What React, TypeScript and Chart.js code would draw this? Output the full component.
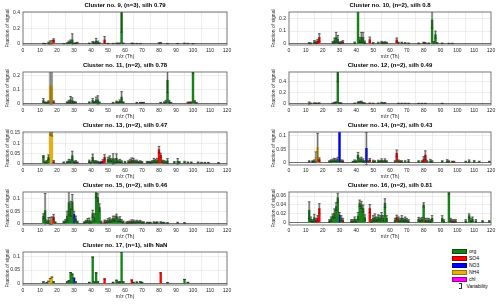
import React, { useEffect, useRef } from 'react';
import { Chart, registerables } from 'chart.js';
Chart.register(...registerables);

type Peak = [number, string, number, number]; // m/z, species, mean fraction, variability

const xTicks = [0, 10, 20, 30, 40, 50, 60, 70, 80, 90, 100, 110, 120];

const cluster9: Peak[] = [
  [12, 'org', 0.004, 0.003], [13, 'org', 0.003, 0.002], [15, 'org', 0.01, 0.012], [16, 'nh4', 0.018, 0.02],
  [17, 'nh4', 0.02, 0.02], [18, 'so4', 0.05, 0.015], [24, 'org', 0.003, 0.002], [26, 'org', 0.008, 0.006],
  [27, 'org', 0.02, 0.015], [28, 'org', 0.03, 0.02], [29, 'org', 0.05, 0.08], [30, 'no3', 0.005, 0.004],
  [31, 'org', 0.008, 0.006], [32, 'so4', 0.012, 0.008], [39, 'org', 0.006, 0.004], [41, 'org', 0.018, 0.012],
  [42, 'org', 0.012, 0.01], [43, 'org', 0.035, 0.035], [44, 'org', 0.02, 0.015], [45, 'org', 0.008, 0.005],
  [48, 'so4', 0.05, 0.045], [50, 'org', 0.004, 0.003], [53, 'org', 0.004, 0.003], [55, 'org', 0.006, 0.004],
  [56, 'org', 0.005, 0.004], [57, 'org', 0.006, 0.004], [58, 'org', 0.45, 0.3], [59, 'org', 0.006, 0.005],
  [64, 'so4', 0.006, 0.004], [65, 'org', 0.004, 0.003], [67, 'org', 0.004, 0.003], [69, 'org', 0.003, 0.002],
  [80, 'so4', 0.008, 0.006], [81, 'so4', 0.01, 0.008], [85, 'org', 0.003, 0.002], [91, 'org', 0.003, 0.002],
  [95, 'org', 0.006, 0.004], [97, 'org', 0.004, 0.003], [100, 'org', 0.002, 0.002],
];

const cluster10: Peak[] = [
  [12, 'org', 0.006, 0.004], [13, 'org', 0.004, 0.003], [15, 'org', 0.015, 0.01], [16, 'so4', 0.012, 0.01],
  [17, 'so4', 0.02, 0.015], [18, 'so4', 0.05, 0.03], [26, 'org', 0.01, 0.008], [27, 'org', 0.025, 0.02],
  [28, 'org', 0.05, 0.04], [29, 'org', 0.035, 0.03], [30, 'no3', 0.008, 0.006], [31, 'org', 0.01, 0.008],
  [32, 'so4', 0.015, 0.01], [39, 'org', 0.008, 0.006], [41, 'org', 0.26, 0.01], [42, 'org', 0.03, 0.02],
  [43, 'org', 0.05, 0.04], [44, 'org', 0.05, 0.04], [45, 'org', 0.012, 0.01], [48, 'so4', 0.033, 0.02],
  [50, 'org', 0.006, 0.004], [53, 'org', 0.008, 0.005], [55, 'org', 0.012, 0.008], [56, 'org', 0.008, 0.006],
  [57, 'org', 0.01, 0.006], [58, 'org', 0.008, 0.005], [64, 'so4', 0.03, 0.016], [65, 'org', 0.008, 0.005],
  [67, 'org', 0.008, 0.005], [69, 'org', 0.006, 0.004], [71, 'org', 0.004, 0.003], [77, 'org', 0.004, 0.003],
  [80, 'so4', 0.008, 0.005], [81, 'org', 0.006, 0.004], [83, 'org', 0.004, 0.003], [85, 'org', 0.187, 0.063],
  [86, 'org', 0.01, 0.008], [87, 'org', 0.072, 0.028], [88, 'org', 0.006, 0.004], [91, 'org', 0.004, 0.003],
  [95, 'org', 0.003, 0.002], [97, 'org', 0.003, 0.002],
];

const cluster11: Peak[] = [
  [12, 'org', 0.02, 0.015], [13, 'org', 0.005, 0.004], [14, 'org', 0.005, 0.004], [15, 'org', 0.01, 0.008],
  [16, 'nh4', 0.13, 0.15], [17, 'nh4', 0.12, 0.14], [18, 'so4', 0.01, 0.008], [26, 'org', 0.006, 0.005],
  [27, 'org', 0.012, 0.01], [28, 'org', 0.025, 0.025], [29, 'org', 0.02, 0.02], [30, 'no3', 0.008, 0.006],
  [31, 'org', 0.006, 0.004], [39, 'org', 0.006, 0.004], [41, 'org', 0.02, 0.015], [42, 'org', 0.008, 0.006],
  [43, 'org', 0.025, 0.02], [44, 'org', 0.025, 0.03], [45, 'org', 0.006, 0.004], [53, 'org', 0.004, 0.003],
  [55, 'org', 0.01, 0.006], [56, 'org', 0.006, 0.004], [57, 'org', 0.015, 0.01], [58, 'org', 0.045, 0.04],
  [59, 'org', 0.006, 0.004], [67, 'org', 0.004, 0.003], [69, 'org', 0.004, 0.003], [70, 'org', 0.004, 0.003],
  [71, 'org', 0.004, 0.003], [81, 'org', 0.004, 0.003], [83, 'org', 0.006, 0.004], [84, 'org', 0.012, 0.01],
  [85, 'org', 0.167, 0.09], [86, 'org', 0.012, 0.01], [87, 'org', 0.004, 0.003], [97, 'so4', 0.005, 0.004],
  [98, 'so4', 0.006, 0.004], [99, 'org', 0.006, 0.004], [100, 'org', 0.228, 0.01], [101, 'org', 0.012, 0.008],
  [102, 'org', 0.004, 0.003],
];

const cluster12: Peak[] = [
  [12, 'org', 0.01, 0.02], [13, 'org', 0.004, 0.003], [15, 'org', 0.008, 0.006], [16, 'org', 0.006, 0.004],
  [17, 'nh4', 0.006, 0.004], [18, 'so4', 0.008, 0.005], [26, 'org', 0.006, 0.004], [27, 'org', 0.015, 0.01],
  [28, 'org', 0.02, 0.012], [29, 'org', 0.6, 0.2], [30, 'no3', 0.01, 0.008], [31, 'org', 0.008, 0.005],
  [39, 'org', 0.006, 0.004], [41, 'org', 0.02, 0.012], [42, 'org', 0.025, 0.015], [43, 'org', 0.03, 0.015],
  [44, 'org', 0.012, 0.008], [45, 'org', 0.006, 0.004], [48, 'so4', 0.006, 0.004], [50, 'org', 0.004, 0.003],
  [53, 'org', 0.006, 0.004], [55, 'org', 0.015, 0.01], [56, 'org', 0.008, 0.005], [57, 'org', 0.012, 0.008],
  [65, 'org', 0.004, 0.003], [67, 'org', 0.004, 0.003], [69, 'org', 0.004, 0.003], [71, 'org', 0.003, 0.002],
  [77, 'org', 0.003, 0.002], [79, 'org', 0.003, 0.002], [81, 'org', 0.003, 0.002], [91, 'org', 0.003, 0.002],
];

const cluster13: Peak[] = [
  [12, 'org', 0.035, 0.004], [13, 'org', 0.006, 0.004], [14, 'org', 0.008, 0.006], [15, 'org', 0.03, 0.012],
  [16, 'nh4', 0.16, 0.02], [17, 'nh4', 0.155, 0.02], [18, 'so4', 0.008, 0.006], [24, 'org', 0.004, 0.003],
  [26, 'org', 0.006, 0.004], [27, 'org', 0.012, 0.008], [28, 'org', 0.01, 0.008], [29, 'org', 0.038, 0.022],
  [30, 'no3', 0.006, 0.004], [31, 'org', 0.008, 0.006], [32, 'so4', 0.004, 0.003], [39, 'org', 0.01, 0.006],
  [40, 'org', 0.004, 0.003], [41, 'org', 0.03, 0.016], [42, 'org', 0.008, 0.005], [43, 'org', 0.008, 0.005],
  [44, 'org', 0.006, 0.004], [45, 'no3', 0.004, 0.003], [46, 'no3', 0.006, 0.004], [47, 'so4', 0.01, 0.008],
  [48, 'so4', 0.03, 0.013], [50, 'org', 0.02, 0.01], [51, 'org', 0.025, 0.012], [52, 'org', 0.015, 0.008],
  [53, 'org', 0.022, 0.026], [54, 'org', 0.012, 0.01], [55, 'org', 0.025, 0.022], [56, 'org', 0.01, 0.006],
  [57, 'org', 0.012, 0.008], [58, 'org', 0.008, 0.005], [60, 'org', 0.006, 0.004], [62, 'org', 0.008, 0.005],
  [63, 'org', 0.012, 0.008], [64, 'so4', 0.015, 0.012], [65, 'org', 0.015, 0.01], [66, 'org', 0.01, 0.006],
  [67, 'org', 0.01, 0.006], [68, 'org', 0.006, 0.004], [69, 'org', 0.008, 0.005], [70, 'org', 0.005, 0.004],
  [73, 'org', 0.006, 0.004], [74, 'org', 0.006, 0.004], [75, 'org', 0.005, 0.004], [76, 'org', 0.008, 0.005],
  [77, 'org', 0.015, 0.01], [78, 'org', 0.012, 0.008], [79, 'org', 0.015, 0.01], [80, 'so4', 0.068, 0.016],
  [81, 'so4', 0.04, 0.01], [82, 'org', 0.01, 0.006], [83, 'org', 0.008, 0.006], [84, 'org', 0.006, 0.004],
  [85, 'org', 0.012, 0.012], [89, 'org', 0.005, 0.004], [91, 'org', 0.01, 0.014], [92, 'org', 0.005, 0.004],
  [95, 'org', 0.006, 0.004], [97, 'org', 0.004, 0.003], [99, 'org', 0.004, 0.003], [103, 'org', 0.004, 0.003],
  [105, 'org', 0.003, 0.002], [107, 'org', 0.003, 0.002], [109, 'org', 0.003, 0.002], [115, 'org', 0.002, 0.002],
];

const cluster14: Peak[] = [
  [12, 'org', 0.004, 0.003], [14, 'no3', 0.004, 0.003], [15, 'org', 0.006, 0.004], [16, 'nh4', 0.02, 0.02],
  [17, 'nh4', 0.057, 0.052], [18, 'so4', 0.012, 0.006], [24, 'org', 0.004, 0.003], [25, 'org', 0.006, 0.004],
  [26, 'org', 0.008, 0.005], [27, 'org', 0.01, 0.006], [28, 'org', 0.008, 0.006], [29, 'org', 0.012, 0.008],
  [30, 'no3', 0.12, 0.004], [31, 'org', 0.006, 0.004], [32, 'so4', 0.005, 0.004], [38, 'org', 0.003, 0.002],
  [39, 'org', 0.006, 0.004], [40, 'org', 0.004, 0.003], [41, 'org', 0.028, 0.01], [42, 'org', 0.01, 0.006],
  [43, 'org', 0.012, 0.008], [44, 'org', 0.008, 0.006], [45, 'org', 0.004, 0.003], [46, 'no3', 0.053, 0.06],
  [47, 'org', 0.004, 0.003], [48, 'so4', 0.01, 0.005], [50, 'org', 0.005, 0.004], [51, 'org', 0.004, 0.003],
  [53, 'org', 0.005, 0.004], [54, 'org', 0.004, 0.003], [55, 'org', 0.008, 0.006], [56, 'org', 0.004, 0.003],
  [57, 'org', 0.008, 0.006], [58, 'org', 0.004, 0.003], [63, 'org', 0.004, 0.003], [64, 'so4', 0.035, 0.012],
  [65, 'org', 0.006, 0.004], [66, 'org', 0.004, 0.003], [67, 'org', 0.004, 0.003], [69, 'org', 0.004, 0.003],
  [71, 'org', 0.006, 0.005], [77, 'org', 0.004, 0.003], [79, 'org', 0.004, 0.003], [80, 'so4', 0.012, 0.01],
  [81, 'so4', 0.028, 0.016], [82, 'org', 0.004, 0.003], [84, 'org', 0.006, 0.006], [85, 'org', 0.004, 0.003],
  [91, 'org', 0.004, 0.003], [94, 'org', 0.006, 0.005], [95, 'org', 0.004, 0.003], [97, 'so4', 0.003, 0.002],
  [98, 'so4', 0.003, 0.002], [105, 'org', 0.003, 0.002], [107, 'org', 0.005, 0.005], [110, 'org', 0.004, 0.004],
  [113, 'org', 0.003, 0.002], [119, 'org', 0.003, 0.002],
];

const cluster15: Peak[] = [
  [12, 'org', 0.03, 0.01], [13, 'org', 0.052, 0.07], [14, 'org', 0.008, 0.006], [15, 'org', 0.012, 0.012],
  [16, 'nh4', 0.01, 0.015], [17, 'nh4', 0.012, 0.015], [18, 'so4', 0.026, 0.011], [19, 'org', 0.004, 0.003],
  [24, 'org', 0.006, 0.004], [25, 'org', 0.01, 0.006], [26, 'org', 0.03, 0.02], [27, 'org', 0.085, 0.05],
  [28, 'org', 0.06, 0.03], [29, 'org', 0.088, 0.03], [30, 'no3', 0.037, 0.013], [31, 'org', 0.02, 0.01],
  [32, 'org', 0.006, 0.004], [36, 'org', 0.004, 0.003], [37, 'org', 0.008, 0.005], [38, 'org', 0.012, 0.008],
  [39, 'org', 0.012, 0.01], [40, 'org', 0.006, 0.004], [41, 'org', 0.04, 0.014], [42, 'org', 0.025, 0.015],
  [43, 'org', 0.125, 0.02], [44, 'org', 0.106, 0.015], [45, 'org', 0.065, 0.015], [46, 'org', 0.006, 0.004],
  [48, 'so4', 0.008, 0.006], [49, 'org', 0.008, 0.005], [50, 'org', 0.012, 0.008], [51, 'org', 0.015, 0.008],
  [52, 'org', 0.012, 0.006], [53, 'org', 0.02, 0.01], [54, 'org', 0.02, 0.01], [55, 'org', 0.03, 0.008],
  [56, 'org', 0.015, 0.008], [57, 'org', 0.018, 0.01], [58, 'org', 0.01, 0.006], [59, 'org', 0.006, 0.004],
  [61, 'org', 0.004, 0.003], [62, 'org', 0.005, 0.004], [63, 'org', 0.006, 0.004], [64, 'so4', 0.008, 0.007],
  [65, 'org', 0.008, 0.006], [66, 'org', 0.006, 0.004], [67, 'org', 0.008, 0.005], [68, 'org', 0.006, 0.004],
  [69, 'org', 0.008, 0.005], [70, 'org', 0.004, 0.003], [71, 'org', 0.004, 0.003], [73, 'org', 0.003, 0.002],
  [74, 'org', 0.003, 0.002], [75, 'org', 0.003, 0.002], [77, 'org', 0.004, 0.003], [78, 'org', 0.003, 0.002],
  [79, 'org', 0.004, 0.003], [81, 'org', 0.004, 0.003], [82, 'org', 0.003, 0.002], [83, 'org', 0.003, 0.002],
  [85, 'org', 0.002, 0.002], [91, 'org', 0.003, 0.002], [95, 'org', 0.002, 0.002],
];

const cluster16: Peak[] = [
  [12, 'org', 0.028, 0.019], [13, 'org', 0.008, 0.005], [14, 'org', 0.004, 0.003], [15, 'org', 0.011, 0.008],
  [16, 'so4', 0.006, 0.004], [17, 'so4', 0.01, 0.006], [18, 'so4', 0.032, 0.011], [24, 'org', 0.004, 0.003],
  [25, 'org', 0.008, 0.005], [26, 'org', 0.015, 0.005], [27, 'org', 0.021, 0.01], [28, 'org', 0.036, 0.009],
  [29, 'org', 0.056, 0.01], [30, 'no3', 0.017, 0.006], [31, 'org', 0.01, 0.006], [32, 'so4', 0.006, 0.004],
  [37, 'org', 0.004, 0.003], [38, 'org', 0.004, 0.003], [39, 'org', 0.008, 0.005], [40, 'org', 0.004, 0.003],
  [41, 'org', 0.015, 0.008], [42, 'org', 0.044, 0.007], [43, 'org', 0.04, 0.008], [44, 'org', 0.032, 0.008],
  [45, 'org', 0.012, 0.006], [48, 'so4', 0.032, 0.009], [49, 'org', 0.004, 0.003], [50, 'org', 0.01, 0.006],
  [51, 'org', 0.012, 0.008], [52, 'org', 0.008, 0.005], [53, 'org', 0.012, 0.006], [54, 'org', 0.01, 0.006],
  [55, 'org', 0.016, 0.007], [56, 'org', 0.01, 0.006], [57, 'org', 0.044, 0.01], [58, 'org', 0.01, 0.006],
  [63, 'org', 0.006, 0.004], [64, 'so4', 0.012, 0.005], [65, 'org', 0.008, 0.005], [66, 'org', 0.006, 0.004],
  [67, 'org', 0.01, 0.006], [68, 'org', 0.006, 0.004], [69, 'org', 0.008, 0.005], [70, 'org', 0.006, 0.004],
  [71, 'org', 0.004, 0.003], [77, 'org', 0.008, 0.004], [78, 'org', 0.006, 0.004], [79, 'org', 0.008, 0.004],
  [80, 'org', 0.04, 0.005], [81, 'so4', 0.006, 0.004], [82, 'org', 0.006, 0.004], [83, 'org', 0.006, 0.004],
  [84, 'org', 0.004, 0.003], [85, 'org', 0.01, 0.006], [91, 'org', 0.01, 0.006], [92, 'org', 0.004, 0.003],
  [95, 'org', 0.066, 0.002], [96, 'org', 0.006, 0.004], [97, 'so4', 0.004, 0.003], [98, 'so4', 0.004, 0.003],
  [99, 'org', 0.004, 0.003], [105, 'org', 0.004, 0.003], [107, 'org', 0.016, 0.004], [108, 'org', 0.006, 0.004],
  [109, 'org', 0.008, 0.005], [111, 'org', 0.004, 0.003], [115, 'org', 0.003, 0.002], [119, 'org', 0.003, 0.002],
];

const cluster17: Peak[] = [
  [12, 'org', 0.006, 0], [14, 'org', 0.003, 0], [15, 'nh4', 0.008, 0], [16, 'nh4', 0.018, 0],
  [17, 'nh4', 0.024, 0], [18, 'org', 0.006, 0], [26, 'org', 0.006, 0], [27, 'org', 0.01, 0],
  [28, 'org', 0.041, 0], [29, 'org', 0.035, 0], [30, 'no3', 0.02, 0], [31, 'org', 0.006, 0],
  [39, 'org', 0.004, 0], [41, 'org', 0.099, 0], [42, 'org', 0.006, 0], [43, 'org', 0.04, 0],
  [44, 'org', 0.006, 0], [48, 'so4', 0.017, 0], [53, 'org', 0.004, 0], [55, 'org', 0.012, 0],
  [56, 'org', 0.005, 0], [57, 'org', 0.006, 0], [58, 'org', 0.118, 0], [59, 'org', 0.006, 0],
  [64, 'so4', 0.013, 0], [65, 'org', 0.004, 0], [67, 'org', 0.005, 0], [69, 'org', 0.006, 0],
  [70, 'org', 0.004, 0], [81, 'so4', 0.04, 0], [85, 'org', 0.003, 0], [95, 'org', 0.015, 0],
  [97, 'org', 0.004, 0],
];

const clusterTitles = [
  'Cluster no. 9, (n=3), silh 0.79', 'Cluster no. 10, (n=2), silh 0.8',
  'Cluster no. 11, (n=2), silh 0.78', 'Cluster no. 12, (n=2), silh 0.49',
  'Cluster no. 13, (n=2), silh 0.47', 'Cluster no. 14, (n=2), silh 0.43',
  'Cluster no. 15, (n=2), silh 0.46', 'Cluster no. 16, (n=2), silh 0.81',
  'Cluster no. 17, (n=1), silh NaN',
];
const clusterPeaks = [cluster9, cluster10, cluster11, cluster12, cluster13, cluster14, cluster15, cluster16, cluster17];
const yMins = [-0.015, -0.009, -0.012, -0.025, -0.008, -0.009, -0.006, -0.005, -0.006];
const yMaxs = [0.41, 0.249, 0.227, 0.578, 0.155, 0.114, 0.128, 0.069, 0.118];
const yTickLists = [
  [0, 0.2, 0.4], [0, 0.1, 0.2], [0, 0.1, 0.2], [0, 0.2, 0.4], [0, 0.05, 0.1, 0.15],
  [0, 0.05, 0.1], [0, 0.05, 0.1], [0, 0.02, 0.04, 0.06], [0, 0.05, 0.1],
];

const speciesKeys = ['org', 'so4', 'no3', 'nh4', 'chl'];
const speciesLabels = ['org', 'SO4', 'NO3', 'NH4', 'chl'];
const speciesColors: Record<string, string> = {
  org: '#178217', so4: '#ff0000', no3: '#0000ff', nh4: '#e6b012', chl: '#ff00ff',
};
const speciesEdges: Record<string, string> = {
  org: '#0b4f0b', so4: '#a00000', no3: '#00009a', nh4: '#9a7408', chl: '#a000a0',
};

const FONT = '"Liberation Sans", Arial, Helvetica, sans-serif';

type PanelProps = {
  idx: number; left: number; top: number; width: number; height: number; padRight: number;
};

function Panel({ idx, left, top, width, height, padRight }: PanelProps) {
  const ref = useRef<HTMLCanvasElement>(null);
  useEffect(() => {
    const peaks = clusterPeaks[idx];
    const yTicks = yTickLists[idx];
    const datasets: any[] = [];
    datasets.push({
      label: 'var',
      data: peaks.filter((p) => p[3] > 0).map((p) => ({ x: p[0], y: p[2] + p[3] })),
      backgroundColor: '#c4c4c4',
      barThickness: 1.7,
      grouped: false,
      order: 2,
    });
    speciesKeys.forEach((k) => {
      datasets.push({
        label: k,
        data: peaks.filter((p) => p[1] === k).map((p) => ({ x: p[0], y: p[2] })),
        backgroundColor: speciesColors[k],
        barThickness: 1.7,
        grouped: false,
        order: 1,
      });
    });

    const box = {
      id: 'box',
      afterDraw(chart: any) {
        const { ctx, chartArea: a } = chart;
        ctx.save();
        ctx.strokeStyle = '#555';
        ctx.lineWidth = 0.8;
        ctx.strokeRect(a.left, a.top, a.right - a.left, a.bottom - a.top);
        ctx.restore();
      },
    };
    const whiskers = {
      id: 'whiskers',
      afterDatasetsDraw(chart: any) {
        const { ctx, chartArea: a, scales } = chart;
        const xs = scales.x;
        const ys = scales.y;
        ctx.save();
        ctx.beginPath();
        ctx.rect(a.left, a.top, a.right - a.left, a.bottom - a.top);
        ctx.clip();
        ctx.strokeStyle = '#2a2a2a';
        ctx.lineWidth = 0.6;
        ctx.beginPath();
        for (const p of peaks) {
          const px = xs.getPixelForValue(p[0]);
          const yt = ys.getPixelForValue(p[2] + p[3]);
          const yb = ys.getPixelForValue(p[2] - p[3]);
          ctx.moveTo(px, yb);
          ctx.lineTo(px, yt);
          ctx.moveTo(px - 1.3, yt);
          ctx.lineTo(px + 1.3, yt);
          ctx.moveTo(px - 1.3, yb);
          ctx.lineTo(px + 1.3, yb);
        }
        ctx.stroke();
        ctx.restore();
      },
    };

    const tickFont = { family: FONT, size: 5 };
    const chart = new Chart(ref.current as HTMLCanvasElement, {
      type: 'bar',
      data: { datasets },
      options: {
        responsive: false,
        animation: false,
        events: [],
        layout: { padding: { left: 0, right: padRight, top: 0, bottom: 0 } },
        plugins: {
          legend: { display: false },
          tooltip: { enabled: false },
          title: {
            display: true,
            text: clusterTitles[idx],
            fullSize: false,
            color: '#000',
            font: { family: FONT, size: 6, weight: 'bold', lineHeight: 1.2 },
            padding: { top: 2, bottom: 2.8 },
          },
        },
        scales: {
          x: {
            type: 'linear',
            min: 0,
            max: 120,
            offset: false,
            grid: { color: '#e2e2e2', lineWidth: 0.6, drawTicks: false },
            border: { display: false },
            ticks: { padding: 3, font: tickFont, color: '#262626', maxRotation: 0, autoSkip: false,
              callback: (v: any) => String(v) },
            afterBuildTicks: (axis: any) => { axis.ticks = xTicks.map((v) => ({ value: v })); },
            title: { display: true, text: 'm/z (Th)', color: '#262626', font: { family: FONT, size: 5, lineHeight: 1.2 },
              padding: { top: 0, bottom: 0 } },
            afterFit: (s: any) => { s.height = 15; },
          },
          y: {
            type: 'linear',
            min: yMins[idx],
            max: yMaxs[idx],
            grid: {
              color: (c: any) => (c.tick && c.tick.value === 0 ? '#4a4a4a' : '#e2e2e2'),
              lineWidth: (c: any) => (c.tick && c.tick.value === 0 ? 0.8 : 0.6),
              drawTicks: false,
            },
            border: { display: false },
            ticks: { padding: 3, font: tickFont, color: '#262626', callback: (v: any) => String(v) },
            afterBuildTicks: (axis: any) => { axis.ticks = yTicks.map((v) => ({ value: v })); },
            title: { display: true, text: 'Fraction of signal', color: '#262626', font: { family: FONT, size: 5, lineHeight: 1.2 },
              padding: { top: 5, bottom: 0 } },
            afterFit: (s: any) => { s.width = 23; },
          },
        },
      } as any,
      plugins: [whiskers, box],
    });
    return () => chart.destroy();
  }, [idx, padRight]);
  return (
    <canvas
      ref={ref}
      width={width}
      height={height}
      style={{ position: 'absolute', left, top, width, height }}
    />
  );
}

const panelLayout = [
  { col: 0, row: 0 }, { col: 1, row: 0 }, { col: 0, row: 1 }, { col: 1, row: 1 },
  { col: 0, row: 2 }, { col: 1, row: 2 }, { col: 0, row: 3 }, { col: 1, row: 3 }, { col: 0, row: 4 },
];

export default function App() {
  const legendTop = [248.5, 255.5, 262.5, 269.5, 276.5];
  return (
    <div style={{ position: 'absolute', left: 0, top: 0, width: 500, height: 304, background: '#fff', overflow: 'hidden', fontFamily: FONT }}>
      {panelLayout.map((p, i) => (
        <Panel
          key={i}
          idx={i}
          left={p.col === 0 ? 0 : 266}
          top={p.row * 60}
          width={p.col === 0 ? 250 : 234}
          height={60}
          padRight={p.col === 0 ? 23 : 9}
        />
      ))}
      {speciesKeys.map((k, i) => (
        <React.Fragment key={k}>
          <div style={{ position: 'absolute', left: 452, top: legendTop[i], width: 15, height: 5,
            background: speciesColors[k], boxSizing: 'border-box', border: `0.5px solid ${speciesEdges[k]}` }} />
          <div style={{ position: 'absolute', left: 469, top: legendTop[i] - 0.5, fontSize: 5, lineHeight: '6px', color: '#000', whiteSpace: 'nowrap' }}>
            {speciesLabels[i]}
          </div>
        </React.Fragment>
      ))}
      <div style={{ position: 'absolute', left: 460.5, top: 283, width: 0.6, height: 5, background: '#333' }} />
      <div style={{ position: 'absolute', left: 459.3, top: 283, width: 3, height: 0.6, background: '#333' }} />
      <div style={{ position: 'absolute', left: 459.3, top: 287.6, width: 3, height: 0.6, background: '#333' }} />
      <div style={{ position: 'absolute', left: 466.5, top: 282.8, fontSize: 5, lineHeight: '6px', color: '#000', whiteSpace: 'nowrap' }}>
        Variability
      </div>
    </div>
  );
}
